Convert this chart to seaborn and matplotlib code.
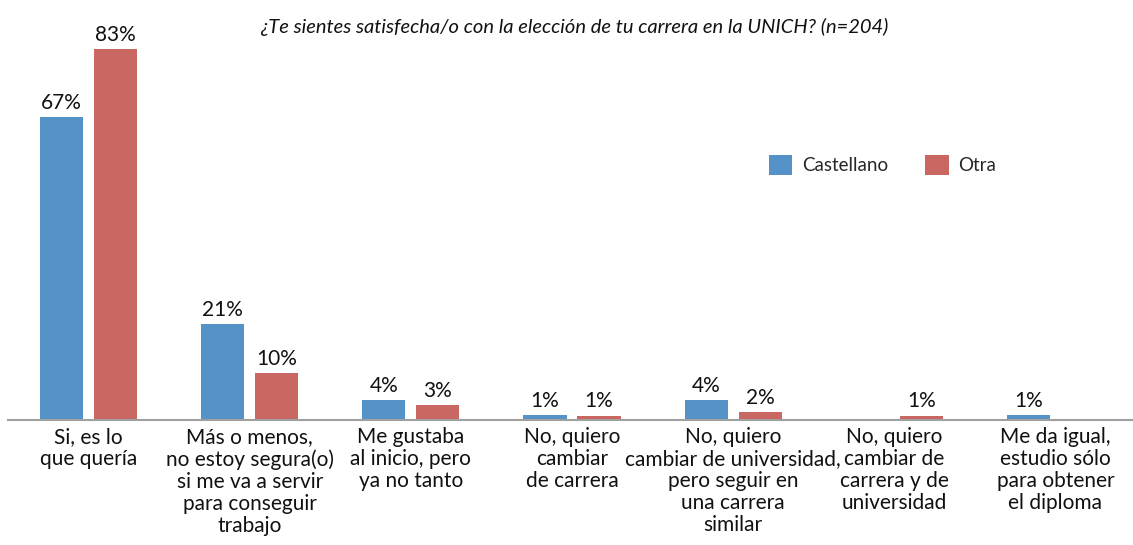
import pandas as pd
import seaborn as sns
import matplotlib.pyplot as plt

categories = [
    "Si, es lo\nque quería",
    "Más o menos,\nno estoy segura(o)\nsi me va a servir\npara conseguir\ntrabajo",
    "Me gustaba\nal inicio, pero\nya no tanto",
    "No, quiero\ncambiar\nde carrera",
    "No, quiero\ncambiar de universidad,\npero seguir en\nuna carrera\nsimilar",
    "No, quiero\ncambiar de\ncarrera y de\nuniversidad",
    "Me da igual,\nestudio sólo\npara obtener\nel diploma",
]
castellano = [0.677, 0.215, 0.045, 0.011, 0.045, 0.0, 0.011]
otra = [0.830, 0.105, 0.034, 0.010, 0.018, 0.010, 0.0]
castellano_labels = ["67%", "21%", "4%", "1%", "4%", "", "1%"]
otra_labels = ["83%", "10%", "3%", "1%", "2%", "1%", ""]
series = ["Castellano", "Otra"]
colors = ["#5592C7", "#C96862"]

df = pd.DataFrame({
    "cat": categories * 2,
    "val": castellano + otra,
    "lang": [series[0]] * len(categories) + [series[1]] * len(categories),
})

sns.set_style("white")
plt.rcParams["font.family"] = ["Lato", "DejaVu Sans"]

fig = plt.figure(figsize=(11.33, 5.45), dpi=100)
ax = fig.add_axes([8 / 1133, 125 / 545, 1128 / 1133, 410 / 545])

sns.barplot(data=df, x="cat", y="val", hue="lang", palette=colors,
            saturation=1, width=0.67, gap=0.2, linewidth=0, ax=ax, legend=True)

ax.set_ylim(0, 0.917)
ax.set_xlim(-0.5, len(categories) - 0.5)
ax.set_xlabel("")
ax.set_ylabel("")
ax.set_yticks([])
for s in ["top", "right", "left"]:
    ax.spines[s].set_visible(False)
ax.spines["bottom"].set_color("#A0A0A0")
ax.spines["bottom"].set_linewidth(1.5)
ax.tick_params(axis="x", length=0, labelsize=15, pad=5, colors="#111111")
for t in ax.get_xticklabels():
    t.set_linespacing(1.13)

for cont, labs in zip(ax.containers, [castellano_labels, otra_labels]):
    ax.bar_label(cont, labels=labs, padding=3, fontsize=15, color="#111111")

ax.legend(loc="center left", bbox_to_anchor=(752 / 1133, 1 - 165 / 545),
          bbox_transform=fig.transFigure, ncol=2, frameon=False,
          fontsize=13.5, handlelength=1.25, handleheight=1.25,
          columnspacing=2.0, handletextpad=0.5)

fig.text(574 / 1133, 1 - 27 / 545,
         "¿Te sientes satisfecha/o con la elección de tu carrera en la UNICH? (n=204)",
         ha="center", va="center", fontsize=14.5, style="italic", color="#111111")

fig.savefig("out.png", dpi=100)
